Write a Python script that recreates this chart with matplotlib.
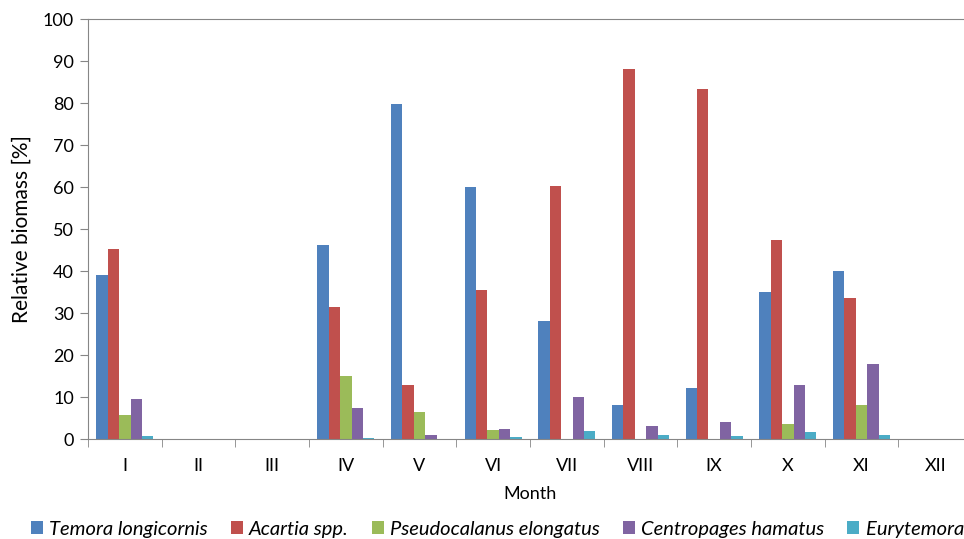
import matplotlib.pyplot as plt
import numpy as np

months = ["I", "II", "III", "IV", "V", "VI", "VII", "VIII", "IX", "X", "XI", "XII"]
species = ["Temora longicornis", "Acartia spp.", "Pseudocalanus elongatus",
           "Centropages hamatus", "Eurytemora sp"]
temora = [39.1, 0, 0, 46.3, 79.8, 59.9, 28.1, 8.2, 12.2, 35.1, 39.9, 0]
acartia = [45.2, 0, 0, 31.4, 12.9, 35.5, 60.2, 88.1, 83.3, 47.3, 33.6, 0]
pseudocalanus = [5.6, 0, 0, 15.0, 6.4, 2.1, 0, 0, 0, 3.5, 8.0, 0]
centropages = [9.5, 0, 0, 7.4, 1.0, 2.5, 9.9, 3.0, 4.0, 12.9, 17.9, 0]
eurytemora = [0.8, 0, 0, 0.2, 0, 0.5, 1.9, 1.0, 0.7, 1.6, 0.95, 0]
colors = ["#4F81BD", "#C0504D", "#9BBB59", "#8064A2", "#4BACC6"]

plt.rcParams["font.family"] = ["Lato", "DejaVu Sans"]

fig = plt.figure(figsize=(9.64, 5.39), dpi=100)
ax = fig.add_axes([88 / 964, 100 / 539, 884 / 964, 420 / 539])

x = np.arange(len(months))
width = 0.155
series = [temora, acartia, pseudocalanus, centropages, eurytemora]
for i, (vals, col, name) in enumerate(zip(series, colors, species)):
    ax.bar(x - 0.5 + 0.112 + width * (i + 0.5), vals, width, color=col,
           label=name, edgecolor="none")

ax.set_xlim(-0.5, len(months) - 0.5)
ax.set_ylim(0, 100)
ax.set_yticks(np.arange(0, 101, 10))
ax.set_xticks(x)
ax.set_xticklabels(months)
ax.set_xticks(np.arange(-0.5, len(months), 1), minor=True)
ax.tick_params(axis="x", which="major", length=0, labelsize=13, pad=14)
ax.tick_params(axis="x", which="minor", length=6, color="#868686")
ax.tick_params(axis="y", length=6, color="#868686", labelsize=13, pad=4)

for s in ["left", "top", "bottom"]:
    ax.spines[s].set_color("#868686")
ax.spines["right"].set_visible(False)

ax.set_ylabel("Relative biomass [%]", fontsize=15, labelpad=8)
ax.set_xlabel("Month", fontsize=13, labelpad=8)

# legend runs off the right edge, as in the original figure
fig.legend(loc="center left", bbox_to_anchor=(31 / 964, 10 / 539), ncol=5,
           frameon=False, borderpad=0, borderaxespad=0,
           handlelength=0.6, handleheight=0.6,
           handletextpad=0.3, columnspacing=1.15,
           prop={"style": "italic", "size": 14.5})

fig.savefig("out.png", dpi=100)
